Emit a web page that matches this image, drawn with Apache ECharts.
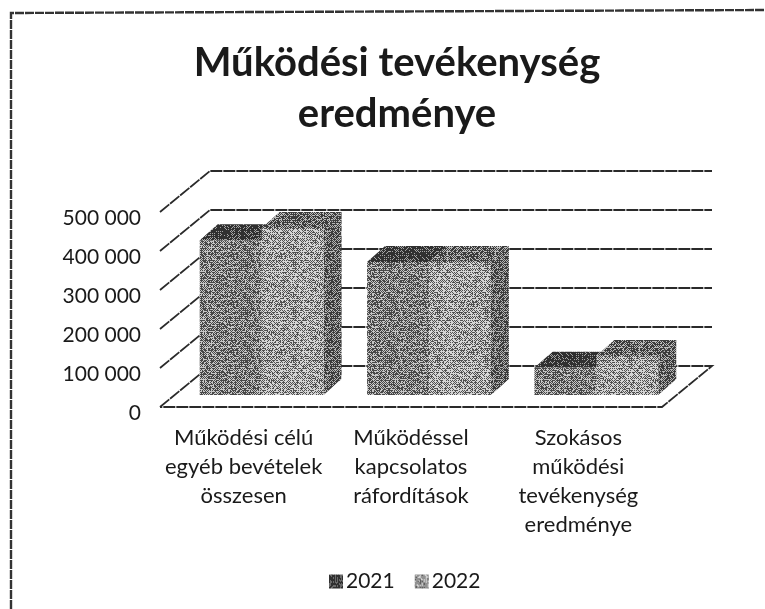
<!DOCTYPE html>
<html>
<head>
<meta charset="utf-8">
<style>html,body{margin:0;padding:0;background:#fff}#c{width:765px;height:609px}</style>
<script src="https://cdn.jsdelivr.net/npm/echarts@6/dist/echarts.min.js"></script>
</head>
<body>
<div id="c"></div>
<script>
const titleText = 'Működési tevékenység\neredménye';
const categories = ['Működési célú\negyéb bevételek\nösszesen', 'Működéssel\nkapcsolatos\nráfordítások', 'Szokásos\nműködési\ntevékenység\neredménye'];
const yTicks = [0, 100000, 200000, 300000, 400000, 500000];
const series2021 = [397000, 341000, 70000];
const series2022 = [428000, 341000, 100000];

const FONT = 'Lato';
const WALL_DX = 50, WALL_DY = -41;
const BASE_DX = 18, BASE_DY = -12;
const DEPTH_DX = 18, DEPTH_DY = -16;
const BAR_FRACTION = 0.37;

const bayer = [[0,8,2,10],[12,4,14,6],[3,11,1,9],[15,7,13,5]];
function grain(x, y) {
  const s = Math.sin(x * 12.9898 + y * 78.233) * 43758.5453;
  return s - Math.floor(s);
}
function pattern(level, dark, light) {
  const n = 48, cv = document.createElement('canvas');
  cv.width = n; cv.height = n;
  const g = cv.getContext('2d');
  for (let y = 0; y < n; y++) for (let x = 0; x < n; x++) {
    const t = 0.55 * bayer[y % 4][x % 4] / 16 + 0.45 * grain(x, y);
    g.fillStyle = t < level ? dark : light;
    g.fillRect(x, y, 1, 1);
  }
  return { image: cv, repeat: 'repeat' };
}
const faces = {
  '2021': { front: pattern(0.52, '#484848', '#c6c6c6'), top: pattern(0.68, '#303030', '#a4a4a4'), side: pattern(0.52, '#444444', '#bcbcbc') },
  '2022': { front: pattern(0.44, '#505050', '#d4d4d4'), top: pattern(0.56, '#3c3c3c', '#bcbcbc'), side: pattern(0.56, '#3c3c3c', '#b4b4b4') }
};

function wallItem(params, api) {
  const v = api.value(1);
  const band = api.size([1, 0])[0];
  const left = api.coord([0, v]);
  const right = api.coord([2, v]);
  const x0 = left[0] - band / 2, x1 = right[0] + band / 2, y = left[1];
  const pts = v === 0
    ? [[x0, y], [x0 + WALL_DX, y + WALL_DY], [x1 + WALL_DX, y + WALL_DY], [x1, y], [x0, y]]
    : [[x0, y], [x0 + WALL_DX, y + WALL_DY], [x1 + WALL_DX, y + WALL_DY]];
  return {
    type: 'polyline',
    shape: { points: pts },
    style: { stroke: '#2a2a2a', lineWidth: 1.8, lineDash: [12, 1], fill: 'none' },
    silent: true
  };
}

function barRenderer(year, side) {
  return function (params, api) {
    const i = api.value(0);
    const top = api.coord([i, api.value(1)]);
    const base = api.coord([i, 0]);
    const w = api.size([1, 0])[0] * BAR_FRACTION;
    const xl = top[0] + BASE_DX + (side < 0 ? -w : 0);
    const xr = xl + w;
    const yt = top[1] + BASE_DY, yb = base[1] + BASE_DY;
    const f = faces[year];
    const poly = (pts, fill) => ({ type: 'polygon', shape: { points: pts }, style: { fill: fill } });
    return {
      type: 'group',
      children: [
        poly([[xl, yt], [xr, yt], [xr + DEPTH_DX, yt + DEPTH_DY], [xl + DEPTH_DX, yt + DEPTH_DY]], f.top),
        poly([[xr, yt], [xr + DEPTH_DX, yt + DEPTH_DY], [xr + DEPTH_DX, yb + DEPTH_DY], [xr, yb]], f.side),
        poly([[xl, yt], [xr, yt], [xr, yb], [xl, yb]], f.front)
      ]
    };
  };
}

const chart = echarts.init(document.getElementById('c'), null, { renderer: 'canvas' });
chart.setOption({
  animation: false,
  backgroundColor: '#ffffff',
  title: {
    text: titleText, left: 392, top: 33, textAlign: 'center',
    textStyle: { fontFamily: FONT, fontWeight: 'bold', fontSize: 40, lineHeight: 51, color: '#1a1a1a' }
  },
  legend: {
    top: 566, left: 324, itemWidth: 14, itemHeight: 14, itemGap: 20, icon: 'rect',
    data: [
      { name: '2021', itemStyle: { color: faces['2021'].top } },
      { name: '2022', itemStyle: { color: faces['2022'].front } }
    ],
    textStyle: { fontFamily: FONT, fontSize: 21, color: '#1a1a1a', padding: [0, 0, 0, -2] }
  },
  grid: { left: 160, right: 103, top: 212, height: 195 },
  xAxis: {
    type: 'category', data: categories,
    axisLine: { show: false }, axisTick: { show: false },
    axisLabel: { interval: 0, margin: 16, fontFamily: FONT, fontSize: 22, lineHeight: 29, color: '#1a1a1a' }
  },
  yAxis: {
    type: 'value', min: 0, max: 500000, interval: 100000,
    axisLine: { show: false }, axisTick: { show: false }, splitLine: { show: false },
    axisLabel: {
      margin: 19, fontFamily: FONT, fontSize: 21, color: '#1a1a1a', verticalAlign: 'top', lineHeight: 12,
      formatter: v => String(v).replace(/\B(?=(\d{3})+$)/g, ' ')
    }
  },
  graphic: [{
    type: 'polyline', silent: true, z: 0,
    shape: { points: [[11, 609], [11, 13], [765, 10]] },
    style: { stroke: '#333', lineWidth: 2.4, lineDash: [9, 1], fill: 'none' }
  }],
  series: [
    { type: 'custom', name: 'walls', silent: true, z: 1, coordinateSystem: 'cartesian2d',
      encode: { x: 0, y: 1 }, data: yTicks.map(v => [0, v]), renderItem: wallItem },
    { type: 'custom', name: '2021', z: 2, coordinateSystem: 'cartesian2d', itemStyle: { color: '#7a7a7a' },
      encode: { x: 0, y: 1 }, data: series2021.map((v, i) => [i, v]), renderItem: barRenderer('2021', -1) },
    { type: 'custom', name: '2022', z: 3, coordinateSystem: 'cartesian2d', itemStyle: { color: '#a0a0a0' },
      encode: { x: 0, y: 1 }, data: series2022.map((v, i) => [i, v]), renderItem: barRenderer('2022', 1) }
  ]
});
</script>
</body>
</html>
